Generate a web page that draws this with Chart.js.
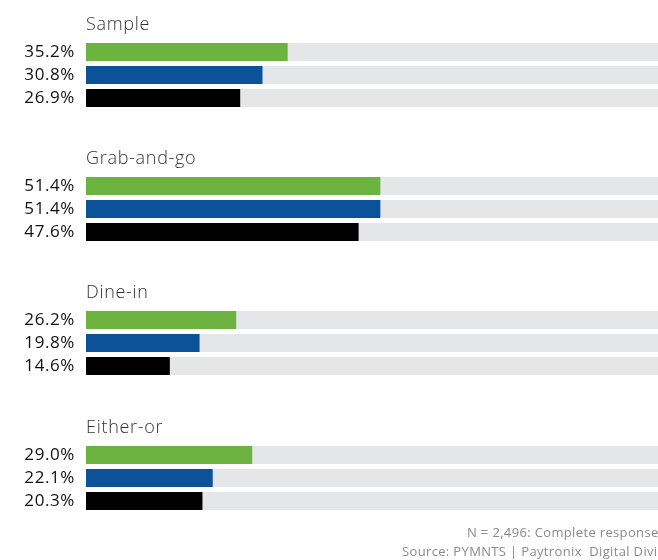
<!DOCTYPE html>
<html>
<head>
<meta charset="utf-8">
<script src="https://cdn.jsdelivr.net/npm/chart.js@4/dist/chart.umd.min.js"></script>
<style>
  html, body { margin: 0; padding: 0; background: #fff; }
  body { width: 658px; height: 560px; position: relative; overflow: hidden; }
  .grp { position: absolute; left: 0; width: 658px; height: 134px; }
  .foot { position: absolute; white-space: nowrap; font-family: "Open Sans", sans-serif; font-size: 13px; letter-spacing: 0.35px; color: #8a8a8a; }
</style>
</head>
<body>
<div class="grp" style="top:0px"><canvas id="c0"></canvas></div>
<div class="grp" style="top:134px"><canvas id="c1"></canvas></div>
<div class="grp" style="top:268px"><canvas id="c2"></canvas></div>
<div class="grp" style="top:403px"><canvas id="c3"></canvas></div>
<div class="foot" style="left:467px; top:523px;">N = 2,496: Complete responses</div>
<div class="foot" style="left:402px; top:542px;">Source: PYMNTS | Paytronix &nbsp;Digital Divide</div>
<script>
const categories = ['Sample', 'Grab-and-go', 'Dine-in', 'Either-or'];
const seriesGreen = [35.2, 51.4, 26.2, 29.0];
const seriesBlue  = [30.8, 51.4, 19.8, 22.1];
const seriesBlack = [26.9, 47.6, 14.6, 20.3];
const trackMax = 100;

const barColors = ['#6db33f', '#0b5299', '#000000'];
const trackColor = '#e5e6e8';

const spacingPlugin = {
  id: 'spacing',
  beforeDraw(chart) { chart.ctx.letterSpacing = '0.6px'; }
};

const titlePlugin = {
  id: 'groupTitle',
  afterDraw(chart, args, opts) {
    const ctx = chart.ctx;
    ctx.save();
    ctx.letterSpacing = '0.7px';
    ctx.font = '300 18px "Open Sans", sans-serif';
    ctx.fillStyle = '#333333';
    ctx.textAlign = 'left';
    ctx.textBaseline = 'alphabetic';
    ctx.fillText(opts.text, chart.chartArea.left, chart.chartArea.top - 11);
    ctx.restore();
  }
};

categories.forEach((cat, i) => {
  const vals = [seriesGreen[i], seriesBlue[i], seriesBlack[i]];
  const labels = vals.map(v => v.toFixed(1) + '%');
  new Chart(document.getElementById('c' + i), {
    type: 'bar',
    data: {
      labels: labels,
      datasets: [
        { data: vals, backgroundColor: barColors, grouped: false, order: 1,
          barThickness: 17.5, borderWidth: 0 },
        { data: vals.map(() => trackMax), backgroundColor: trackColor, grouped: false, order: 2,
          barThickness: 17.5, borderWidth: 0 }
      ]
    },
    options: {
      indexAxis: 'y',
      responsive: true,
      maintainAspectRatio: false,
      animation: false,
      layout: { padding: { top: 40.5, bottom: 24.5, left: 0, right: 0 } },
      plugins: {
        legend: { display: false },
        tooltip: { enabled: false },
        title: { display: false },
        groupTitle: { text: cat }
      },
      scales: {
        x: { min: 0, max: trackMax, display: false },
        y: {
          grid: { display: false, drawTicks: false },
          border: { display: false },
          ticks: { color: '#111111', padding: 11, autoSkip: false, font: { family: '"Open Sans", sans-serif', size: 17 } },
          afterFit(scale) { scale.width = 86; }
        }
      }
    },
    plugins: [spacingPlugin, titlePlugin]
  });
});
</script>
</body>
</html>
